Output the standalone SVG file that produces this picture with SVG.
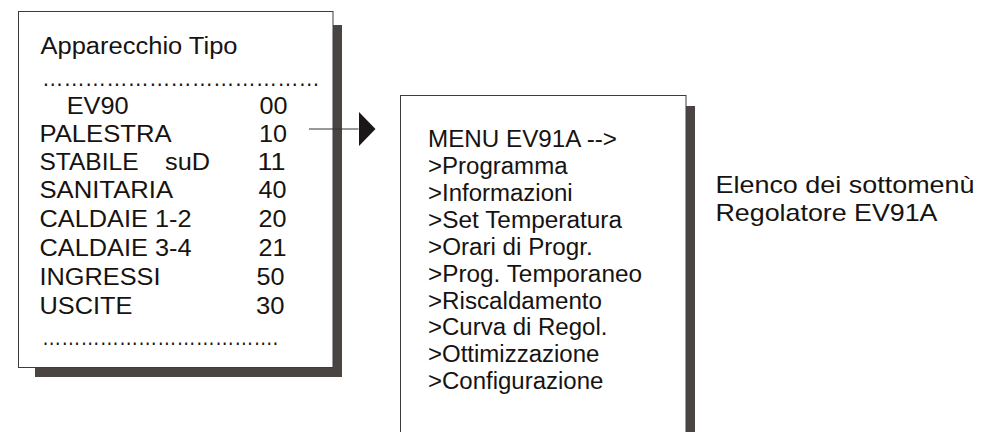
<svg xmlns="http://www.w3.org/2000/svg" width="983" height="432" viewBox="0 0 983 432">
<defs>
<style>
.shadow{fill:#4a4542;}
.box{fill:#ffffff;stroke:#3c3c3c;stroke-width:1;}
.t{font-family:"Liberation Sans",Arial,sans-serif;fill:#161311;font-size:23.5px;}
.tr{font-family:"Liberation Sans",Arial,sans-serif;fill:#161311;font-size:24px;}
.conn{stroke:#333333;stroke-width:1.2;fill:none;}
</style>
<marker id="tri" viewBox="0 0 17 35" refX="0" refY="17.5" markerWidth="17" markerHeight="35" markerUnits="userSpaceOnUse" orient="auto">
<path d="M0,0 L17,17.5 L0,35 Z" fill="#1a1716"/>
</marker>
</defs>
<rect width="983" height="432" fill="#ffffff"/>

<g id="node-apparecchio">
<rect class="shadow" x="35" y="25" width="307" height="352"/>
<rect class="box" x="18.5" y="11.5" width="314.5" height="356"/>
<text class="t" x="40.5" y="54" textLength="197" lengthAdjust="spacingAndGlyphs">Apparecchio Tipo</text>
<text class="t" x="42" y="85.5" textLength="278" lengthAdjust="spacingAndGlyphs">…………………………………</text>
<text class="t" x="66.7" y="114" textLength="62" lengthAdjust="spacingAndGlyphs">EV90</text>
<text class="t" x="259.5" y="114" textLength="28" lengthAdjust="spacingAndGlyphs">00</text>
<text class="t" x="39.5" y="142" textLength="132" lengthAdjust="spacingAndGlyphs">PALESTRA</text>
<text class="t" x="259" y="142" textLength="28" lengthAdjust="spacingAndGlyphs">10</text>
<text class="t" x="39.5" y="170"><tspan textLength="99" lengthAdjust="spacingAndGlyphs">STABILE</tspan> <tspan x="165" textLength="45" lengthAdjust="spacingAndGlyphs">suD</tspan></text>
<text class="t" x="257.5" y="170" textLength="28" lengthAdjust="spacingAndGlyphs">11</text>
<text class="t" x="39.5" y="198" textLength="133.5" lengthAdjust="spacingAndGlyphs">SANITARIA</text>
<text class="t" x="258.5" y="198" textLength="28" lengthAdjust="spacingAndGlyphs">40</text>
<text class="t" x="39.5" y="227" textLength="152" lengthAdjust="spacingAndGlyphs">CALDAIE 1-2</text>
<text class="t" x="258.5" y="227" textLength="28" lengthAdjust="spacingAndGlyphs">20</text>
<text class="t" x="39.5" y="256" textLength="152" lengthAdjust="spacingAndGlyphs">CALDAIE 3-4</text>
<text class="t" x="258.5" y="256" textLength="28" lengthAdjust="spacingAndGlyphs">21</text>
<text class="t" x="39.5" y="284.5" textLength="121" lengthAdjust="spacingAndGlyphs">INGRESSI</text>
<text class="t" x="256.5" y="284.5" textLength="28" lengthAdjust="spacingAndGlyphs">50</text>
<text class="t" x="39.5" y="313.5" textLength="93" lengthAdjust="spacingAndGlyphs">USCITE</text>
<text class="t" x="256" y="313.5" textLength="28.5" lengthAdjust="spacingAndGlyphs">30</text>
<text class="t" x="42" y="345" textLength="236" lengthAdjust="spacingAndGlyphs">……………………………….</text>
</g>

<g id="node-menu">
<rect class="shadow" x="686" y="106" width="9" height="330"/>
<rect class="box" x="400.5" y="95.5" width="285.5" height="345"/>
<text class="t" x="428" y="147" textLength="189" lengthAdjust="spacingAndGlyphs">MENU EV91A --&gt;</text>
<text class="t" x="428" y="174" textLength="139.5" lengthAdjust="spacingAndGlyphs">&gt;Programma</text>
<text class="t" x="428" y="201" textLength="144.7" lengthAdjust="spacingAndGlyphs">&gt;Informazioni</text>
<text class="t" x="428" y="228" textLength="194" lengthAdjust="spacingAndGlyphs">&gt;Set Temperatura</text>
<text class="t" x="428" y="255" textLength="164.7" lengthAdjust="spacingAndGlyphs">&gt;Orari di Progr.</text>
<text class="t" x="428" y="281.8" textLength="214" lengthAdjust="spacingAndGlyphs">&gt;Prog. Temporaneo</text>
<text class="t" x="428" y="308.6" textLength="174" lengthAdjust="spacingAndGlyphs">&gt;Riscaldamento</text>
<text class="t" x="428" y="335.4" textLength="179.4" lengthAdjust="spacingAndGlyphs">&gt;Curva di Regol.</text>
<text class="t" x="428" y="362.2" textLength="171.4" lengthAdjust="spacingAndGlyphs">&gt;Ottimizzazione</text>
<text class="t" x="428" y="389" textLength="175.4" lengthAdjust="spacingAndGlyphs">&gt;Configurazione</text>
</g>

<g id="label-elenco">
<text class="tr" x="715.5" y="193" textLength="259" lengthAdjust="spacingAndGlyphs">Elenco dei sottomenù</text>
<text class="tr" x="715.5" y="221" textLength="222" lengthAdjust="spacingAndGlyphs">Regolatore EV91A</text>
</g>

<g id="connectors">
<line class="conn" x1="309" y1="129" x2="358.5" y2="129" marker-end="url(#tri)"/>
</g>
</svg>
